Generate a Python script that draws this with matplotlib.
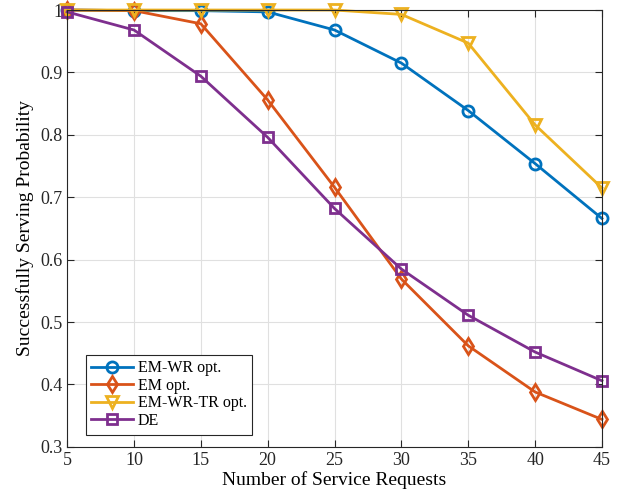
import matplotlib.pyplot as plt

plt.rcParams['font.family'] = ['Liberation Serif', 'DejaVu Serif']

requests = [5, 10, 15, 20, 25, 30, 35, 40, 45]
em_wr = [1.0, 0.999, 0.999, 0.997, 0.968, 0.915, 0.839, 0.754, 0.666]
em = [1.0, 0.999, 0.978, 0.856, 0.716, 0.569, 0.462, 0.388, 0.344]
em_wr_tr = [1.0, 1.0, 1.0, 1.0, 1.0, 0.993, 0.947, 0.816, 0.715]
de = [0.997, 0.968, 0.894, 0.796, 0.682, 0.585, 0.511, 0.452, 0.406]

fig = plt.figure(figsize=(6.27, 5.01), dpi=100)
ax = fig.add_axes([0.107, 0.108, 0.853, 0.872])

style = dict(linewidth=2, markerfacecolor='none', markeredgewidth=2, clip_on=False)
ax.plot(requests, em_wr, marker='o', markersize=8, color='#0072BD', label='EM-WR opt.', **style)
ax.plot(requests, em, marker='d', markersize=8.5, color='#D95319', label='EM opt.', **style)
ax.plot(requests, em_wr_tr, marker='v', markersize=8.5, color='#EDB120', label='EM-WR-TR opt.', **style)
ax.plot(requests, de, marker='s', markersize=6.5, color='#7E2F8E', label='DE', **style)

ax.set_xlim(5, 45)
ax.set_ylim(0.3, 1.0)
ax.set_xticks(range(5, 46, 5))
ax.set_yticks([0.3, 0.4, 0.5, 0.6, 0.7, 0.8, 0.9, 1.0])
ax.set_yticklabels(['0.3', '0.4', '0.5', '0.6', '0.7', '0.8', '0.9', '1'])
ax.grid(True, color='#e0e0e0', linewidth=0.8)
ax.set_axisbelow(True)
ax.tick_params(direction='in', top=True, right=True, labelsize=13, colors='#262626', length=5)
for s in ax.spines.values():
    s.set_color('#262626')
    s.set_linewidth(0.8)

ax.set_xlabel('Number of Service Requests', fontsize=14, labelpad=2)
ax.set_ylabel('Successfully Serving Probability', fontsize=14, labelpad=4)

leg = ax.legend(loc='lower left', bbox_to_anchor=(0.02, 0.01), fontsize=11.5, fancybox=False,
                edgecolor='#262626', framealpha=1, handlelength=2.6, borderpad=0.35,
                labelspacing=0.1, handletextpad=0.3)
leg.get_frame().set_linewidth(0.8)

fig.savefig('out.png', dpi=100)
